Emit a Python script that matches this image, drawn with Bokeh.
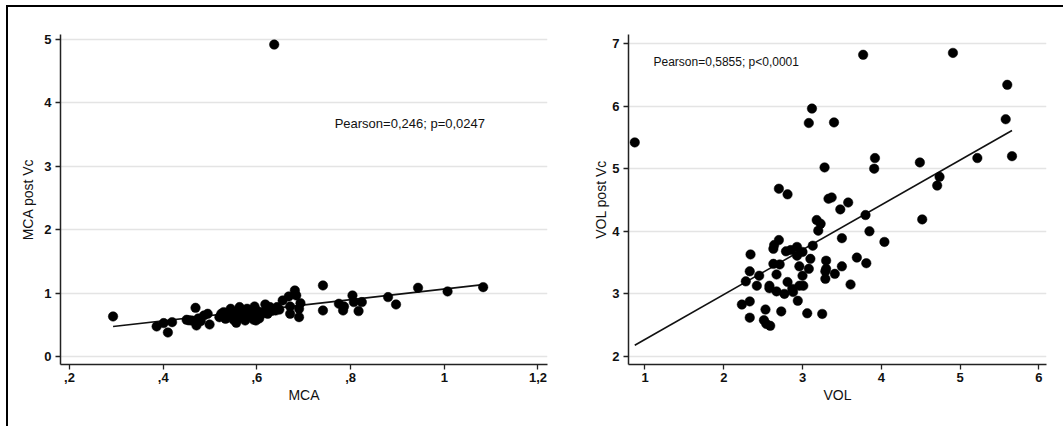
from bokeh.plotting import figure
from bokeh.layouts import row
from bokeh.models import FixedTicker, Label, ColumnDataSource
from bokeh.embed import file_html
from bokeh.resources import INLINE
from bokeh.core.templates import get_env

# ---------------- data: left panel ----------------
mca = [0.293, 0.386, 0.401, 0.410, 0.419, 0.450, 0.469, 0.471, 0.461, 0.480, 0.487, 0.495, 0.499,
       0.524, 0.529, 0.533, 0.544, 0.547, 0.556, 0.563, 0.571, 0.579, 0.575, 0.586, 0.595, 0.598,
       0.602, 0.609, 0.618, 0.623, 0.628, 0.640, 0.643, 0.655, 0.668, 0.671, 0.671, 0.681, 0.684,
       0.690, 0.693, 0.690, 0.741, 0.741, 0.775, 0.784, 0.786, 0.804, 0.807, 0.817, 0.824, 0.880,
       0.897, 0.944, 1.007, 1.083, 0.637,
       0.535, 0.550, 0.565, 0.580, 0.590, 0.605, 0.612, 0.632, 0.648, 0.570, 0.552, 0.540, 0.600,
       0.593, 0.475, 0.520, 0.455]
mca_post_vc = [0.632, 0.474, 0.527, 0.379, 0.542, 0.579, 0.768, 0.489, 0.568, 0.558, 0.647, 0.674, 0.505,
               0.674, 0.700, 0.595, 0.753, 0.626, 0.532, 0.779, 0.647, 0.753, 0.568, 0.674, 0.789, 0.568,
               0.663, 0.700, 0.821, 0.674, 0.779, 0.726, 0.779, 0.884, 0.947, 0.789, 0.674, 1.042, 0.963,
               0.753, 0.842, 0.621, 1.121, 0.726, 0.832, 0.726, 0.789, 0.963, 0.858, 0.716, 0.858, 0.937,
               0.821, 1.084, 1.026, 1.094, 4.92,
               0.63, 0.58, 0.62, 0.66, 0.63, 0.60, 0.68, 0.72, 0.74, 0.70, 0.70, 0.66, 0.72,
               0.58, 0.60, 0.62, 0.57]
mca_fit = [0.227, 0.837]  # intercept, slope
mca_xticks = [0.2, 0.4, 0.6, 0.8, 1.0, 1.2]
mca_xlabels = [",2", ",4", ",6", ",8", "1", "1,2"]
mca_yticks = [0, 1, 2, 3, 4, 5]
mca_ylabels = ["0", "1", "2", "3", "4", "5"]
mca_note = "Pearson=0,246; p=0,0247"

# ---------------- data: right panel ----------------
vol = [0.87, 5.60, 3.12, 3.08, 3.40, 5.58, 5.66, 5.22, 4.49, 3.92, 3.91, 3.28, 4.74, 4.71, 4.52,
       2.70, 2.81, 3.33, 3.37, 3.58, 3.48, 3.80, 3.18, 3.23, 3.20, 3.85, 4.04, 3.50, 3.13, 2.70,
       2.64, 2.63, 2.79, 2.85, 2.93, 3.00, 2.93, 2.34, 2.63, 2.71, 2.96, 3.10, 3.30, 3.08, 3.30,
       3.29, 3.41, 3.50, 3.69, 3.81, 3.29, 3.00, 3.01, 2.96, 2.87, 2.88, 2.81, 2.67, 2.67, 2.77,
       2.58, 2.58, 2.45, 2.42, 2.28, 2.33, 2.23, 2.33, 2.33, 2.53, 2.73, 2.94, 2.51, 2.54, 2.59,
       3.06, 3.25, 3.61, 4.91, 3.77]
vol_post_vc = [5.42, 6.34, 5.96, 5.73, 5.74, 5.79, 5.20, 5.17, 5.10, 5.17, 5.00, 5.02, 4.87, 4.73, 4.19,
               4.68, 4.59, 4.52, 4.54, 4.46, 4.35, 4.26, 4.18, 4.12, 4.01, 4.00, 3.83, 3.89, 3.77, 3.86,
               3.78, 3.72, 3.68, 3.70, 3.75, 3.67, 3.61, 3.63, 3.48, 3.47, 3.44, 3.56, 3.53, 3.40, 3.40,
               3.36, 3.32, 3.44, 3.58, 3.49, 3.24, 3.29, 3.13, 3.13, 3.08, 3.03, 3.19, 3.31, 3.04, 3.00,
               3.13, 3.09, 3.29, 3.13, 3.20, 3.36, 2.83, 2.88, 2.62, 2.75, 2.72, 2.89, 2.58, 2.52, 2.49,
               2.69, 2.68, 3.15, 6.85, 6.82]
vol_fit = [1.557, 0.716]  # intercept, slope
vol_xticks = [1, 2, 3, 4, 5, 6]
vol_xlabels = ["1", "2", "3", "4", "5", "6"]
vol_yticks = [2, 3, 4, 5, 6, 7]
vol_ylabels = ["2", "3", "4", "5", "6", "7"]
vol_note = "Pearson=0,5855; p<0,0001"

FONT = "Liberation Sans"


def panel(xs, ys, fit, xticks, xlabels, yticks, ylabels, xlabel, ylabel, note, note_xy, note_size,
          x_range, y_range, width, height, bl, bt, br, bb, frame_w, frame_h, ylab_standoff):
    p = figure(width=width, height=height, x_range=x_range, y_range=y_range,
               output_backend="svg", toolbar_location=None,
               min_border_left=bl, min_border_top=bt, min_border_right=br, min_border_bottom=bb,
               frame_width=frame_w, frame_height=frame_h)
    p.outline_line_color = None
    p.background_fill_color = "white"
    p.border_fill_color = "white"
    p.xgrid.grid_line_color = None
    p.ygrid.grid_line_color = "#e4e4e4"
    p.ygrid.grid_line_width = 1.5
    p.ygrid.ticker = FixedTicker(ticks=yticks)
    p.xaxis.ticker = FixedTicker(ticks=xticks)
    p.yaxis.ticker = FixedTicker(ticks=yticks)
    p.xaxis.major_label_overrides = {t: l for t, l in zip(xticks, xlabels)}
    p.yaxis.major_label_overrides = {t: l for t, l in zip(yticks, ylabels)}
    for ax in (p.xaxis[0], p.yaxis[0]):
        ax.axis_line_color = "#222222"
        ax.axis_line_width = 1.5
        ax.major_tick_line_color = "#222222"
        ax.major_tick_line_width = 1.3
        ax.major_tick_in = 0
        ax.major_tick_out = 5
        ax.minor_tick_line_color = None
        ax.major_label_text_font = FONT
        ax.major_label_text_font_style = "bold"
        ax.major_label_text_font_size = "13px"
        ax.major_label_text_color = "#111111"
        ax.axis_label_text_font = FONT
        ax.axis_label_text_font_style = "normal"
        ax.axis_label_text_font_size = "14px"
        ax.axis_label_text_color = "#111111"
    p.xaxis.major_label_standoff = 3
    p.yaxis.major_label_standoff = 4
    p.xaxis.axis_label_standoff = 2
    p.yaxis.axis_label_standoff = ylab_standoff
    p.xaxis.axis_label = xlabel
    p.yaxis.axis_label = ylabel

    x0, x1 = min(xs), max(xs)
    fit_src = ColumnDataSource(dict(x=[x0, x1], y=[fit[0] + fit[1] * x0, fit[0] + fit[1] * x1]))
    p.line("x", "y", source=fit_src, line_color="#111111", line_width=1.6)
    p.scatter(xs, ys, size=9.5, fill_color="black", line_color="black", line_width=0.5)
    p.add_layout(Label(x=note_xy[0], y=note_xy[1], text=note, text_font=FONT,
                       text_font_size=note_size, text_baseline="middle", text_align="left",
                       text_color="#111111"))
    return p


p1 = panel(mca, mca_post_vc, mca_fit, mca_xticks, mca_xlabels, mca_yticks, mca_ylabels,
           "MCA", "MCA post Vc", mca_note, (0.766, 3.675), "13px",
           (0.1808, 1.2203), (-0.126, 5.079), 554, 412, 52, 26, 15, 56, 487, 330, 5)
p2 = panel(vol, vol_post_vc, vol_fit, vol_xticks, vol_xlabels, vol_yticks, vol_ylabels,
           "VOL", "VOL post Vc", vol_note, (1.108, 6.71), "12px",
           (0.7905, 6.098), (1.872, 7.144), 496, 412, 66, 26, 12, 56, 418, 330, 0)

layout = row(p1, p2)

tmpl = get_env().from_string("""{% extends "file.html" %}
{% block postamble %}
<style>
  html { margin: 0 !important; padding: 0 !important; }
  body {
    margin: 5px 0 0 6px !important;
    padding: 1px 0 0 0 !important;
    border-top: 2px solid #000;
    border-left: 2px solid #000;
    box-sizing: content-box !important;
    height: auto !important;
    min-height: 430px;
  }
</style>
{% endblock %}""")

open("out.html", "w").write(file_html(layout, INLINE, template=tmpl))
